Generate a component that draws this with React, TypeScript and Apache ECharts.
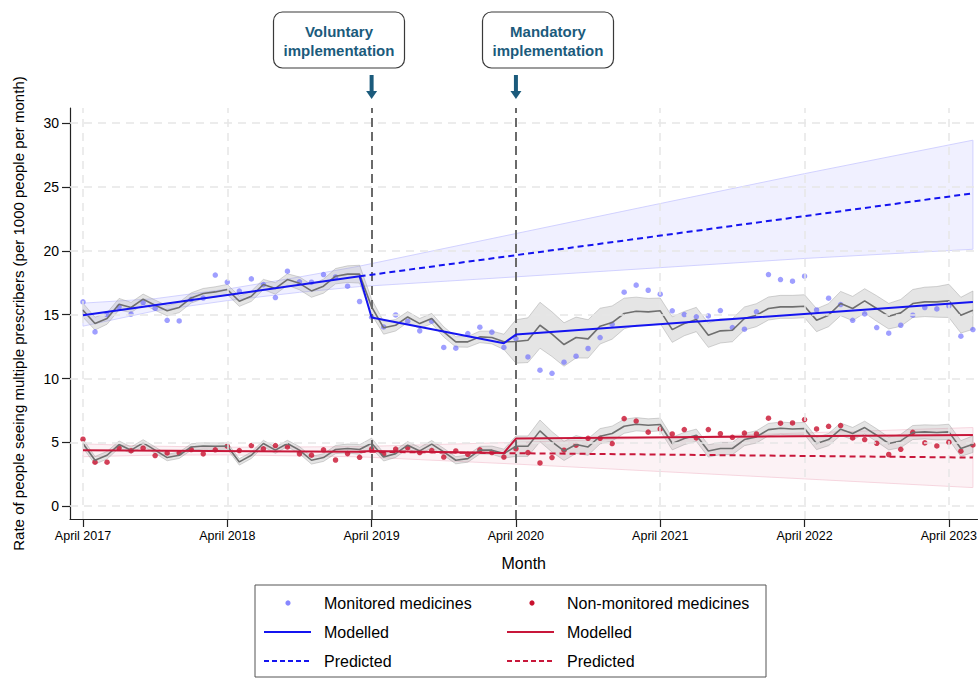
import React, { useEffect, useRef } from 'react';
import * as echarts from 'echarts';

const FONT = '"Liberation Sans", Arial, Helvetica, sans-serif';

// months since April 2017 (0 = April 2017)
const monthIndex = [
  0, 1, 2, 3, 4, 5, 6, 7, 8, 9, 10, 11, 12, 13, 14, 15, 16, 17, 18, 19, 20, 21, 22, 23, 24,
  25, 26, 27, 28, 29, 30, 31, 32, 33, 34, 35, 36, 37, 38, 39, 40, 41, 42, 43, 44, 45, 46, 47, 48, 49,
  50, 51, 52, 53, 54, 55, 56, 57, 58, 59, 60, 61, 62, 63, 64, 65, 66, 67, 68, 69, 70, 71, 72, 73, 74,
];

const tickMonths = [0, 12, 24, 36, 48, 60, 72];
const tickLabels = ['April 2017', 'April 2018', 'April 2019', 'April 2020', 'April 2021', 'April 2022', 'April 2023'];
const yTicks = [0, 5, 10, 15, 20, 25, 30];
const interventionMonths = [24, 36];

// Observed rates
const monitoredObs = [
  16.0, 13.65, 15.0, 15.6, 15.05, 15.95, 15.5, 14.56, 14.51, 16.2, 16.3, 18.1, 17.55, 16.85, 17.8, 17.35, 16.34, 18.4, 17.57, 17.54, 18.14, 17.95, 17.23, 16.03,
  14.8, 14.04, 14.98, 14.49, 13.73, 14.49, 12.43, 12.37, 13.52, 14.02, 13.63, 12.43,
  13.13, 11.69, 10.65, 10.41, 11.28, 11.75, 12.35, 13.21, 14.25, 16.76, 17.31, 16.91, 16.6, 15.3, 15.01, 14.83, 14.9, 15.32, 13.99, 13.86, 15.22,
  18.14, 17.75, 17.62, 18.01, 15.37, 16.29, 15.79, 14.56, 15.06, 13.99, 13.55, 14.17, 14.96, 15.56, 15.45, 15.69, 13.31, 13.83,
];
const nonMonitoredObs = [
  5.25, 3.45, 3.45, 4.55, 4.35, 4.54, 3.97, 4.17, 4.17, 4.44, 4.1, 4.42, 4.7, 4.36, 4.75, 4.49, 4.75, 4.64, 4.1, 4.0, 4.42, 3.62, 4.12, 3.83,
  4.48, 4.08, 4.48, 4.58, 4.2, 4.36, 3.85, 4.33, 4.07, 4.42, 4.2, 3.85,
  4.5, 4.2, 3.39, 3.81, 4.39, 4.78, 5.32, 5.32, 4.91, 6.86, 6.67, 5.8, 6.05, 5.66, 6.0, 5.35, 6.0, 5.68, 5.4, 5.73, 5.66,
  6.89, 6.5, 6.52, 6.79, 6.05, 6.26, 6.32, 5.35, 5.22, 4.93, 4.05, 4.46, 5.79, 4.96, 4.72, 5.01, 4.31, 4.8,
];

// Seasonal fitted values (grey lines) and their CI half-widths
const monitoredFit = [
  15.35, 14.3, 14.7, 15.82, 15.56, 16.21, 15.74, 15.3, 15.56, 16.31, 16.65, 16.78, 16.97, 16.05, 16.44, 17.36, 17.05, 17.75, 17.45, 16.86, 17.23, 18.01, 18.17, 18.17,
  15.61, 13.97, 14.17, 14.82, 14.3, 14.7, 13.65, 12.87, 12.87, 13.26, 13.21, 12.87,
  12.9, 13.0, 14.17, 13.47, 12.66, 13.21, 13.1, 14.1, 14.38, 15.09, 15.27, 15.22, 15.3, 13.83, 14.3, 14.62, 13.39, 13.73, 13.78, 14.7, 14.96,
  15.48, 15.61, 15.61, 15.66, 14.57, 14.96, 15.87, 15.48, 16.08, 15.48, 14.88, 15.14, 15.87, 16.0, 16.0, 16.08, 14.96, 15.35,
];
const monitoredFitHalf = [
  0.55, 0.5, 0.45, 0.45, 0.4, 0.4, 0.4, 0.4, 0.4, 0.4, 0.4, 0.4, 0.4, 0.4, 0.4, 0.4, 0.45, 0.45, 0.5, 0.5, 0.55, 0.6, 0.65, 0.7,
  0.6, 0.5, 0.45, 0.42, 0.4, 0.4, 0.4, 0.4, 0.42, 0.45, 0.5, 0.6,
  1.7, 1.75, 1.8, 1.75, 1.7, 1.6, 1.5, 1.4, 1.3, 1.2, 1.1, 1.05, 1.0, 1.0, 0.95, 0.95, 0.95, 0.95, 0.9, 0.9, 0.9,
  0.9, 0.9, 0.9, 0.9, 0.9, 0.9, 0.95, 0.95, 0.95, 1.0, 1.0, 1.05, 1.1, 1.15, 1.2, 1.3, 1.4, 1.5,
];
const nonMonitoredFit = [
  4.91, 3.6, 3.99, 4.83, 4.39, 4.96, 4.39, 3.81, 3.99, 4.64, 4.72, 4.7, 4.72, 3.47, 3.99, 4.91, 4.39, 4.91, 4.39, 3.6, 3.81, 4.44, 4.52, 4.44,
  4.93, 3.86, 4.12, 4.78, 4.33, 4.86, 4.25, 3.6, 3.73, 4.39, 4.39, 4.12,
  4.7, 4.7, 5.9, 5.04, 4.33, 4.83, 4.64, 5.48, 5.69, 6.26, 6.42, 6.34, 6.4, 4.91, 5.3, 5.56, 4.33, 4.52, 4.52, 5.22, 5.43,
  6.0, 6.11, 6.05, 6.08, 4.91, 5.22, 6.03, 5.69, 6.16, 5.56, 4.91, 5.11, 5.77, 5.82, 5.77, 5.82, 4.52, 4.86,
];
const nonMonitoredFitHalf = [
  0.35, 0.3, 0.3, 0.28, 0.25, 0.25, 0.25, 0.25, 0.25, 0.25, 0.25, 0.25, 0.25, 0.25, 0.25, 0.25, 0.25, 0.25, 0.28, 0.3, 0.3, 0.32, 0.35, 0.38,
  0.4, 0.32, 0.3, 0.28, 0.28, 0.28, 0.28, 0.28, 0.28, 0.3, 0.32, 0.35,
  0.8, 0.8, 0.85, 0.8, 0.75, 0.7, 0.65, 0.6, 0.58, 0.55, 0.52, 0.5, 0.5, 0.5, 0.48, 0.48, 0.48, 0.48, 0.48, 0.48, 0.48,
  0.48, 0.48, 0.48, 0.48, 0.48, 0.48, 0.48, 0.48, 0.5, 0.5, 0.5, 0.52, 0.55, 0.55, 0.58, 0.6, 0.62, 0.65, 0.7,
];

// Segmented (modelled) trends: breakpoints
const modelMonths = [0, 23, 24, 35, 36, 74];
const monitoredModel = [14.95, 18.0, 14.77, 12.76, 13.44, 16.0];
const nonMonitoredModel = [4.38, 4.27, 4.33, 4.17, 5.3, 5.58];

// Counterfactual (predicted) trends
const predMonths = [23, 74];
const monitoredPred = [18.0, 24.5];
const nonMonitoredPred = [4.27, 3.81];

// Predicted confidence bands
const bandMonths = [0, 6, 12, 18, 23, 36, 48, 60, 74];
const monitoredBandLo = [14.1, 15.3, 16.1, 16.75, 17.2, 17.96, 18.68, 19.4, 20.12];
const monitoredBandHi = [15.9, 16.25, 17.0, 17.95, 18.8, 21.35, 23.7, 26.04, 28.66];
const nonMonitoredBandLo = [3.88, 4.0, 4.02, 3.94, 3.87, 3.3, 2.72, 2.14, 1.46];
const nonMonitoredBandHi = [4.88, 4.7, 4.62, 4.64, 4.67, 5.0, 5.36, 5.74, 6.16];

const BLUE = '#1414f0';
const BLUE_PT = 'rgba(95,95,255,0.75)';
const RED = '#c8173a';
const RED_PT = '#c8102e';
const GREY = '#6f6f6f';
const TEAL = '#1b5b7c';

function bandSeries(xs: number[], lo: number[], hi: number[], fill: string, stroke: string, z: number) {
  return {
    type: 'custom',
    silent: true,
    z,
    clip: true,
    encode: { x: 0, y: 1 },
    data: [[xs[0], lo[0]]],
    renderItem: (_p: any, api: any) => {
      const top = xs.map((x, i) => api.coord([x, hi[i]]));
      const bot = xs.map((x, i) => api.coord([x, lo[i]])).reverse();
      return {
        type: 'polygon',
        shape: { points: top.concat(bot) },
        style: { fill, stroke, lineWidth: 1 },
      };
    },
  };
}

function pairs(xs: number[], ys: number[]) {
  return xs.map((x, i) => [x, ys[i]]);
}

export default function App() {
  const ref = useRef<HTMLDivElement>(null);
  useEffect(() => {
    const chart = echarts.init(ref.current!, null, { renderer: 'svg' });
    const option: any = {
      animation: false,
      grid: { left: 70, right: 0, top: 108, bottom: 160, containLabel: false },
      xAxis: {
        type: 'value',
        min: -1.08,
        max: 74.38,
        name: 'Month',
        nameLocation: 'middle',
        nameGap: 36,
        nameTextStyle: { fontSize: 16, color: '#000', fontFamily: FONT },
        axisLine: { onZero: false, lineStyle: { color: '#222', width: 1.2 } },
        axisTick: { customValues: tickMonths, length: 8, lineStyle: { color: '#222', width: 1.2 } },
        axisLabel: {
          customValues: tickMonths,
          margin: 10,
          fontSize: 12.5,
          color: '#000',
          fontFamily: FONT,
          formatter: (v: number) => {
            const i = tickMonths.indexOf(Math.round(v));
            return i >= 0 ? tickLabels[i] : '';
          },
        },
        splitLine: { show: false },
      },
      yAxis: {
        type: 'value',
        min: -1,
        max: 31.18,
        name: 'Rate of people seeing multiple prescribers (per 1000 people per month)',
        nameLocation: 'middle',
        nameGap: 44,
        nameTextStyle: { fontSize: 15, color: '#000', fontFamily: FONT },
        axisLine: { onZero: false, show: true, lineStyle: { color: '#222', width: 1.2 } },
        axisTick: { show: true, customValues: yTicks, length: 8, lineStyle: { color: '#222', width: 1.2 } },
        axisLabel: { customValues: yTicks, margin: 11, fontSize: 14, color: '#000', fontFamily: FONT },
        splitLine: { show: false },
      },
      series: [
        {
          type: 'line',
          data: [],
          z: 0,
          silent: true,
          markLine: {
            silent: true,
            symbol: ['none', 'none'],
            label: { show: false },
            lineStyle: { color: '#e6e6e6', width: 1.5, type: [8, 6] },
            data: [
              ...yTicks.map((v) => ({ yAxis: v })),
              ...tickMonths.map((v) => ({ xAxis: v })),
            ],
          },
        },
        bandSeries(bandMonths, monitoredBandLo, monitoredBandHi, 'rgba(200,200,255,0.28)', 'rgba(205,205,255,0.9)', 1),
        bandSeries(bandMonths, nonMonitoredBandLo, nonMonitoredBandHi, 'rgba(240,190,205,0.2)', 'rgba(245,210,220,0.9)', 1),
        bandSeries(monthIndex, monitoredFit.map((v, i) => v - monitoredFitHalf[i]), monitoredFit.map((v, i) => v + monitoredFitHalf[i]), 'rgba(150,150,150,0.25)', 'rgba(160,160,160,0.45)', 2),
        bandSeries(monthIndex, nonMonitoredFit.map((v, i) => v - nonMonitoredFitHalf[i]), nonMonitoredFit.map((v, i) => v + nonMonitoredFitHalf[i]), 'rgba(150,150,150,0.25)', 'rgba(160,160,160,0.45)', 2),
        {
          type: 'scatter',
          z: 3,
          silent: true,
          symbolSize: 5.5,
          itemStyle: { color: BLUE_PT },
          data: pairs(monthIndex, monitoredObs),
        },
        {
          type: 'scatter',
          z: 3,
          silent: true,
          symbolSize: 5.5,
          itemStyle: { color: RED_PT },
          data: pairs(monthIndex, nonMonitoredObs),
        },
        {
          type: 'line',
          z: 4,
          silent: true,
          showSymbol: false,
          lineStyle: { color: GREY, width: 1.6 },
          data: pairs(monthIndex, monitoredFit),
        },
        {
          type: 'line',
          z: 4,
          silent: true,
          showSymbol: false,
          lineStyle: { color: GREY, width: 1.6 },
          data: pairs(monthIndex, nonMonitoredFit),
        },
        {
          type: 'line',
          data: [],
          z: 5,
          silent: true,
          markLine: {
            silent: true,
            symbol: ['none', 'none'],
            label: { show: false },
            lineStyle: { color: '#6a6a6a', width: 2, type: [9, 5] },
            data: interventionMonths.map((v) => ({ xAxis: v })),
          },
        },
        {
          type: 'line',
          z: 6,
          silent: true,
          showSymbol: false,
          lineStyle: { color: BLUE, width: 2 },
          data: pairs(modelMonths, monitoredModel),
        },
        {
          type: 'line',
          z: 6,
          silent: true,
          showSymbol: false,
          lineStyle: { color: RED, width: 2 },
          data: pairs(modelMonths, nonMonitoredModel),
        },
        {
          type: 'line',
          z: 6,
          silent: true,
          showSymbol: false,
          lineStyle: { color: BLUE, width: 2, type: [6, 4] },
          data: pairs(predMonths, monitoredPred),
        },
        {
          type: 'line',
          z: 6,
          silent: true,
          showSymbol: false,
          lineStyle: { color: RED, width: 2, type: [6, 4] },
          data: pairs(predMonths, nonMonitoredPred),
        },
      ],
    };
    chart.setOption(option);

    const arrow = (cx: number) => ({
      type: 'group',
      children: [
        { type: 'rect', shape: { x: cx - 2, y: 75, width: 4, height: 17 }, style: { fill: TEAL } },
        { type: 'polygon', shape: { points: [[cx - 5.5, 91], [cx + 5.5, 91], [cx, 99]] }, style: { fill: TEAL } },
      ],
    });
    const box = (x: number, text: string) => ({
      type: 'group',
      children: [
        { type: 'rect', shape: { x, y: 12, width: 131, height: 56, r: 9 }, style: { fill: '#fff', stroke: '#3a3a3a', lineWidth: 1.2 } },
        {
          type: 'text',
          x: x + 65.5,
          y: 41,
          style: { text, align: 'center', verticalAlign: 'middle', font: `bold 15px ${FONT}`, fill: TEAL, lineHeight: 18.5 },
        },
      ],
    });
    const legendText = (x: number, y: number, t: string) => ({
      type: 'text',
      x,
      y,
      style: { text: t, align: 'left', verticalAlign: 'middle', font: `16px ${FONT}`, fill: '#000' },
    });
    const legendLine = (x: number, y: number, color: string, dashed: boolean) => ({
      type: 'line',
      shape: { x1: x, y1: y, x2: x + 47, y2: y },
      style: { stroke: color, lineWidth: 1.8, lineDash: dashed ? [5, 3] : null },
    });

    const a1 = chart.convertToPixel({ xAxisIndex: 0 }, interventionMonths[0]) as number;
    const a2 = chart.convertToPixel({ xAxisIndex: 0 }, interventionMonths[1]) as number;

    chart.setOption({
      graphic: [
        box(273.5, 'Voluntary\nimplementation'),
        box(482.5, 'Mandatory\nimplementation'),
        arrow(a1),
        arrow(a2),
        {
          type: 'rect',
          shape: { x: 255, y: 585, width: 511, height: 92 },
          style: { fill: '#fff', stroke: '#555', lineWidth: 1 },
        },
        { type: 'circle', shape: { cx: 288, cy: 603, r: 2.6 }, style: { fill: BLUE_PT } },
        { type: 'circle', shape: { cx: 532, cy: 603, r: 2.6 }, style: { fill: RED_PT } },
        legendText(324, 603, 'Monitored medicines'),
        legendText(567, 603, 'Non-monitored medicines'),
        legendLine(264, 632, BLUE, false),
        legendLine(507, 632, RED, false),
        legendText(324, 632, 'Modelled'),
        legendText(567, 632, 'Modelled'),
        legendLine(264, 661, BLUE, true),
        legendLine(507, 661, RED, true),
        legendText(324, 661, 'Predicted'),
        legendText(567, 661, 'Predicted'),
      ],
    });
    return () => chart.dispose();
  }, []);
  return <div ref={ref} style={{ position: 'absolute', left: 0, top: 0, width: 980, height: 679 }} />;
}
